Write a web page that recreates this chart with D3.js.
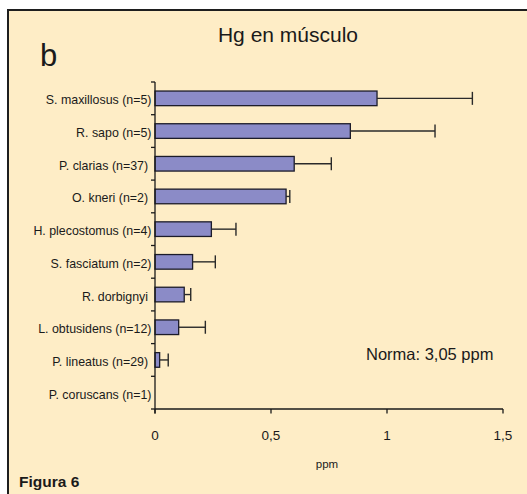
<!DOCTYPE html>
<html>
<head>
<meta charset="utf-8">
<script src="https://cdn.jsdelivr.net/npm/d3@7"></script>
<style>
  html, body { margin: 0; padding: 0; background: #ffffff; }
  svg { display: block; }
  text { font-family: "Liberation Sans", Arial, sans-serif; fill: #1a1a1a; }
</style>
</head>
<body>
<svg id="chart" width="527" height="494"></svg>
<script>
// Mean mercury concentration in muscle (ppm) per species, with upper SD
const species = [
  "S. maxillosus (n=5)",
  "R. sapo (n=5)",
  "P. clarias (n=37) ",
  "O. kneri (n=2) ",
  "H. plecostomus (n=4)",
  "S. fasciatum (n=2)",
  "R. dorbignyi ",
  "L. obtusidens (n=12)",
  "P. lineatus (n=29) ",
  "P. coruscans (n=1)"
];
const meanPpm = [0.957, 0.842, 0.600, 0.565, 0.243, 0.162, 0.126, 0.102, 0.020, 0];
const upperPpm = [1.368, 1.207, 0.760, 0.581, 0.349, 0.260, 0.154, 0.217, 0.057, null];
const xTicks = [0, 0.5, 1, 1.5];
const xTickLabels = ["0", "0,5", "1", "1,5"];

const svg = d3.select("#chart");

// panel background and frame
svg.append("rect").attr("x", 8).attr("y", 10).attr("width", 519).attr("height", 484)
  .attr("fill", "#feedc6");
svg.append("path").attr("d", "M8,494 V10 H527")
  .attr("fill", "none").attr("stroke", "#1e1e1e").attr("stroke-width", 2);

const x = d3.scaleLinear().domain([0, 1.5]).range([155, 503]);
const y = d3.scaleBand().domain(species).range([82, 409]).paddingInner(0.553).paddingOuter(0.2765);

const g = svg.append("g");

// bars
g.selectAll("rect.bar")
  .data(species.map((s, i) => ({ s, v: meanPpm[i], u: upperPpm[i] })).filter(d => d.v > 0))
  .join("rect")
  .attr("class", "bar")
  .attr("x", x(0))
  .attr("y", d => y(d.s))
  .attr("width", d => x(d.v) - x(0))
  .attr("height", y.bandwidth())
  .attr("fill", "#8b8bc7")
  .attr("stroke", "#1c1c2a")
  .attr("stroke-width", 1.3);

// error bars (upper side only)
const errs = species.map((s, i) => ({ s, v: meanPpm[i], u: upperPpm[i] })).filter(d => d.u != null && d.v > 0);
const cy = d => y(d.s) + y.bandwidth() / 2;
g.selectAll("line.err")
  .data(errs).join("line")
  .attr("x1", d => x(d.v)).attr("x2", d => x(d.u))
  .attr("y1", cy).attr("y2", cy)
  .attr("stroke", "#2a2a2a").attr("stroke-width", 1.4);
g.selectAll("line.cap")
  .data(errs).join("line")
  .attr("x1", d => x(d.u)).attr("x2", d => x(d.u))
  .attr("y1", d => cy(d) - 6.5).attr("y2", d => cy(d) + 6.5)
  .attr("stroke", "#2a2a2a").attr("stroke-width", 1.4);

// y axis: line, ticks at category boundaries, labels
const axisColor = "#1a1a1a";
g.append("line").attr("x1", x(0)).attr("x2", x(0)).attr("y1", 82).attr("y2", 413.5)
  .attr("stroke", axisColor).attr("stroke-width", 1.3);
const bounds = species.map(s => y(s) - y.step() * y.paddingInner() / 2);
bounds.push(409);
g.selectAll("line.ytick").data(bounds).join("line")
  .attr("x1", x(0) - 4).attr("x2", x(0))
  .attr("y1", d => d).attr("y2", d => d)
  .attr("stroke", axisColor).attr("stroke-width", 1.3);
g.selectAll("text.ylab").data(species).join("text")
  .attr("x", 151.5)
  .attr("y", d => y(d) + y.bandwidth() / 2 + 6)
  .attr("text-anchor", "end")
  .style("white-space", "pre")
  .attr("font-size", 12.4)
  .text(d => d);

// x axis
g.append("line").attr("x1", x(0)).attr("x2", x(1.5)).attr("y1", 409).attr("y2", 409)
  .attr("stroke", axisColor).attr("stroke-width", 1.3);
g.selectAll("line.xtick").data(xTicks).join("line")
  .attr("x1", d => x(d)).attr("x2", d => x(d))
  .attr("y1", 409).attr("y2", 413.5)
  .attr("stroke", axisColor).attr("stroke-width", 1.3);
g.selectAll("text.xlab").data(xTicks).join("text")
  .attr("x", d => x(d)).attr("y", 439.5)
  .attr("text-anchor", "middle")
  .attr("font-size", 13.5)
  .text((d, i) => xTickLabels[i]);

svg.append("text").attr("x", 327).attr("y", 468).attr("text-anchor", "middle")
  .attr("font-size", 11.5).text("ppm");

// titles and notes
svg.append("text").attr("x", 288).attr("y", 41.5).attr("text-anchor", "middle")
  .attr("font-size", 21).text("Hg en músculo");
svg.append("text").attr("x", 40).attr("y", 65.5)
  .attr("font-size", 31).text("b");
svg.append("text").attr("x", 366).attr("y", 360)
  .attr("font-size", 16.5).text("Norma: 3,05 ppm");
svg.append("text").attr("x", 19).attr("y", 486.5)
  .attr("font-size", 15.5).attr("font-weight", "bold").text("Figura 6");
</script>
</body>
</html>
